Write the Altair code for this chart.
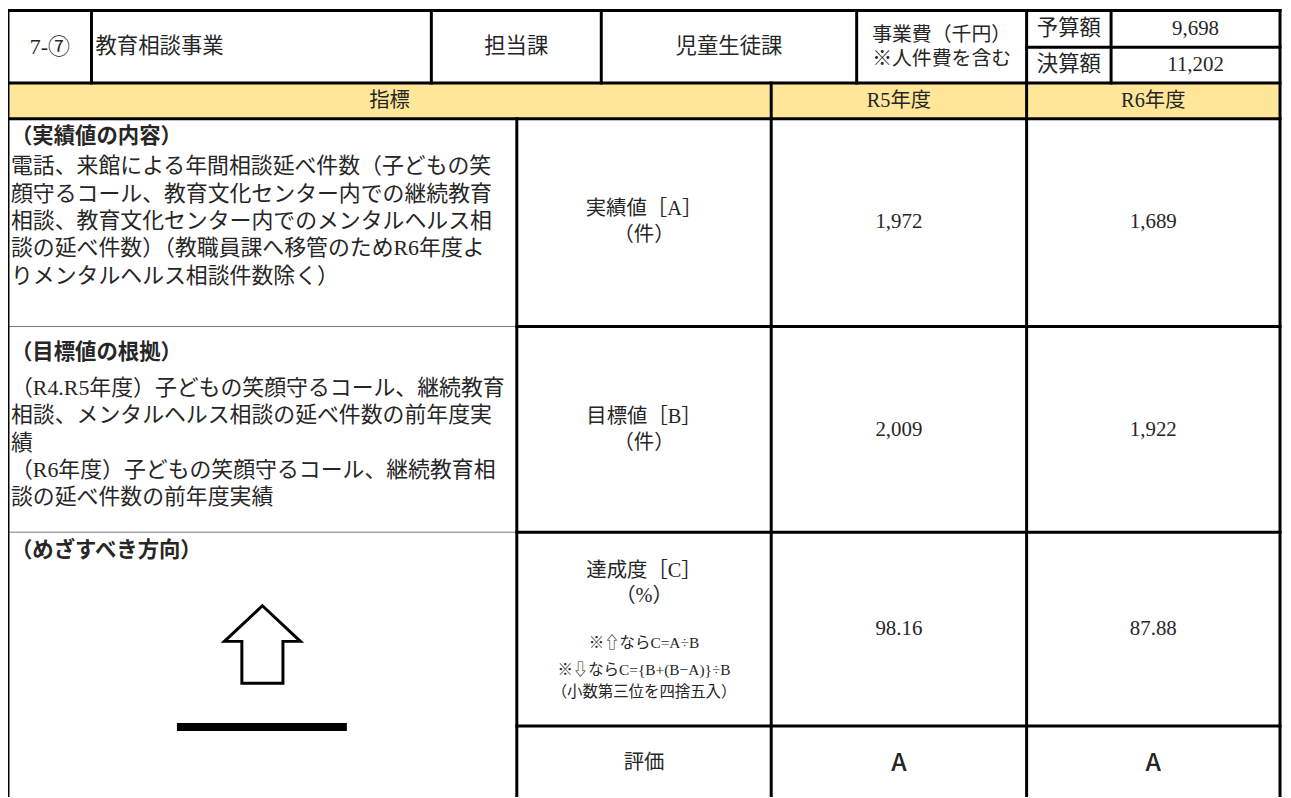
import altair as alt
import pandas as pd

# ---------------- content ----------------
code_no = "7-⑦"
project_name = "教育相談事業"
dept_label = "担当課"
dept_name = "児童生徒課"
cost_label = ["事業費（千円）", "※人件費を含む"]
budget_labels = ["予算額", "決算額"]
budget_values = [9698, 11202]
header_labels = ["指標", "R5年度", "R6年度"]
section_titles = ["（実績値の内容）", "（目標値の根拠）", "（めざすべき方向）"]
actual_desc = [
    "電話、来館による年間相談延べ件数（子どもの笑",
    "顔守るコール、教育文化センター内での継続教育",
    "相談、教育文化センター内でのメンタルヘルス相",
    "談の延べ件数）（教職員課へ移管のためR6年度よ",
    "りメンタルヘルス相談件数除く）",
]
target_desc = [
    "（R4.R5年度）子どもの笑顔守るコール、継続教育",
    "相談、メンタルヘルス相談の延べ件数の前年度実",
    "績",
    "（R6年度）子どもの笑顔守るコール、継続教育相",
    "談の延べ件数の前年度実績",
]
metric_labels = [["実績値［A］", "（件）"], ["目標値［B］", "（件）"], ["達成度［C］", "（%）"], ["評価"]]
formula_lines = ["※⇧ならC=A÷B", "※⇩ならC={B+(B−A)}÷B", "（小数第三位を四捨五入）"]
actual_values = [1972, 1689]
target_values = [2009, 1922]
achievement = [98.16, 87.88]
ratings = ["A", "A"]
direction = ["up"]

# ---------------- layout (page pixels) ----------------
W, H = 1283, 790
X = dict(L=8, c1=92, c2=434, c3=605, c4=862, c5=1033, c6=1118, R=1288, mid=520, r5=776)
Y = dict(T=8, sub=45, h1=81, h2=117, r1=326, r2=533, r3=728, B=798)
year_x = [(X["r5"] + X["c5"]) / 2, (X["c5"] + X["R"]) / 2]
metric_x = (X["mid"] + X["r5"]) / 2

SERIF = "'Liberation Serif', 'Noto Sans CJK JP', serif"
SANS = "'Noto Sans CJK JP', sans-serif"
INK = "#262626"

xs = alt.Scale(domain=[8, 8 + W], nice=False, zero=False)
ys = alt.Scale(domain=[8, 8 + H], nice=False, zero=False, reverse=True)

# grid lines
thick, thin = 3, 1
lines = [
    (X["L"], Y["T"], X["R"], Y["T"], thick),
    (X["c5"], Y["sub"], X["R"], Y["sub"], thick),
    (X["L"], Y["h1"], X["R"], Y["h1"], thick),
    (X["L"], Y["h2"], X["R"], Y["h2"], thick),
    (X["mid"], Y["r1"], X["R"], Y["r1"], thick),
    (X["mid"], Y["r2"], X["R"], Y["r2"], thick),
    (X["mid"], Y["r3"], X["R"], Y["r3"], thick),
    (X["L"], Y["r1"], X["mid"], Y["r1"], thin),
    (X["L"], Y["r2"], X["mid"], Y["r2"], thin),
    (X["L"], Y["T"], X["L"], Y["B"], thick),
    (X["R"], Y["T"], X["R"], Y["B"], thick),
    (X["c1"], Y["T"], X["c1"], Y["h1"], thick),
    (X["c2"], Y["T"], X["c2"], Y["h1"], thick),
    (X["c3"], Y["T"], X["c3"], Y["h1"], thick),
    (X["c4"], Y["T"], X["c4"], Y["h1"], thick),
    (X["c6"], Y["T"], X["c6"], Y["h1"], thick),
    (X["c5"], Y["T"], X["c5"], Y["B"], thick),
    (X["r5"], Y["h1"], X["r5"], Y["B"], thick),
    (X["mid"], Y["h2"], X["mid"], Y["B"], thick),
]
lines_df = pd.DataFrame(lines, columns=["x", "y", "x2", "y2", "w"])
lines_df["c"] = ["#000" if w == thick else "#777" for w in lines_df["w"]]

fills_df = pd.DataFrame([dict(x=X["L"], x2=X["R"], y=Y["h1"], y2=Y["h2"], c="#FFE699")])

# texts
center_items, left_items, bold_items, rating_items = [], [], [], []
def add(lst, text, x, y, size):
    lst.append(dict(text=text, x=x, y=y, size=size))

add(center_items, code_no, (X["L"] + X["c1"]) / 2, 45, 22)
add(left_items, project_name, X["c1"] + 4, 45, 21.5)
add(center_items, dept_label, (X["c2"] + X["c3"]) / 2, 45, 21.5)
add(center_items, dept_name, (X["c3"] + X["c4"]) / 2, 45, 21.5)
for t, y in zip(cost_label, [33, 57]):
    add(center_items, t, (X["c4"] + X["c5"]) / 2, y, 20)
for t, v, y in zip(budget_labels, budget_values, [27, 63]):
    add(center_items, t, (X["c5"] + X["c6"]) / 2, y, 21.5)
    add(center_items, f"{v:,}", (X["c6"] + X["R"]) / 2, y, 21)
for t, x in zip(header_labels, [(X["L"] + X["r5"]) / 2] + year_x):
    add(center_items, t, x, 99, 20.5)

for t, y in zip(section_titles, [135, 353, 552]):
    add(bold_items, t, X["L"] + 3, y, 21.5)
for i, t in enumerate(actual_desc):
    add(left_items, t, X["L"] + 3, 165 + 27.5 * i, 22)
for i, t in enumerate(target_desc):
    add(left_items, t, X["L"] + 3, 388 + 27.5 * i, 22)

metric_y = [[208, 234], [417, 443], [572, 597], [765]]
for labels, ys_ in zip(metric_labels, metric_y):
    for t, y in zip(labels, ys_):
        add(center_items, t, metric_x, y, 20.5)
for t, y, s in zip(formula_lines, [645, 672, 694], [15.5, 15.5, 15.5]):
    add(center_items, t, metric_x, y, s)

for x, a, b, c, r in zip(year_x, actual_values, target_values, achievement, ratings):
    add(center_items, f"{a:,}", x, 221, 21)
    add(center_items, f"{b:,}", x, 430, 21)
    add(center_items, f"{c:.2f}", x, 630, 21)
    add(rating_items, r, x, 765, 25)

def text_layer(items, align, font, weight):
    return alt.Chart(pd.DataFrame(items)).mark_text(
        align=align, baseline="middle", font=font, fontWeight=weight, color=INK
    ).encode(
        x=alt.X("x:Q", scale=xs, axis=None),
        y=alt.Y("y:Q", scale=ys, axis=None),
        text="text:N",
        size=alt.Size("size:Q", scale=None, legend=None),
    )

fills = alt.Chart(fills_df).mark_rect().encode(
    x=alt.X("x:Q", scale=xs, axis=None), x2="x2:Q",
    y=alt.Y("y:Q", scale=ys, axis=None), y2="y2:Q",
    color=alt.Color("c:N", scale=None, legend=None),
)

rules = alt.Chart(lines_df).mark_rule(strokeCap="square").encode(
    x=alt.X("x:Q", scale=xs, axis=None), x2="x2:Q",
    y=alt.Y("y:Q", scale=ys, axis=None), y2="y2:Q",
    strokeWidth=alt.StrokeWidth("w:Q", scale=None, legend=None),
    color=alt.Color("c:N", scale=None, legend=None),
)

# direction arrow (outlined) and baseline bar
ARROW = "M0,-1 L0.98,-0.08 L0.53,-0.08 L0.53,1 L-0.53,1 L-0.53,-0.08 L-0.98,-0.08 Z"
arrow_df = pd.DataFrame(dict(dir=direction, x=[264], y=[646]))
arrow = alt.Chart(arrow_df).mark_point(
    shape=ARROW, size=6084, filled=False, strokeWidth=3, color="#000", opacity=1, strokeJoin="miter"
).encode(
    x=alt.X("x:Q", scale=xs, axis=None),
    y=alt.Y("y:Q", scale=ys, axis=None),
)
bar_df = pd.DataFrame(dict(dir=direction, x=[178], x2=[349], y=[725], y2=[733]))
bar = alt.Chart(bar_df).mark_rect(color="#000").encode(
    x=alt.X("x:Q", scale=xs, axis=None), x2="x2:Q",
    y=alt.Y("y:Q", scale=ys, axis=None), y2="y2:Q",
)

chart = alt.layer(
    fills,
    rules,
    arrow,
    bar,
    text_layer(center_items, "center", SERIF, 400),
    text_layer(left_items, "left", SERIF, 400),
    text_layer(bold_items, "left", SANS, 700),
    text_layer(rating_items, "center", SANS, 500),
).properties(
    width=W, height=H, padding=0, autosize=alt.AutoSizeParams(type="none"), background="white"
).configure_view(stroke=None)

chart.save("out.html", embed_options={"renderer": "svg", "actions": False})
